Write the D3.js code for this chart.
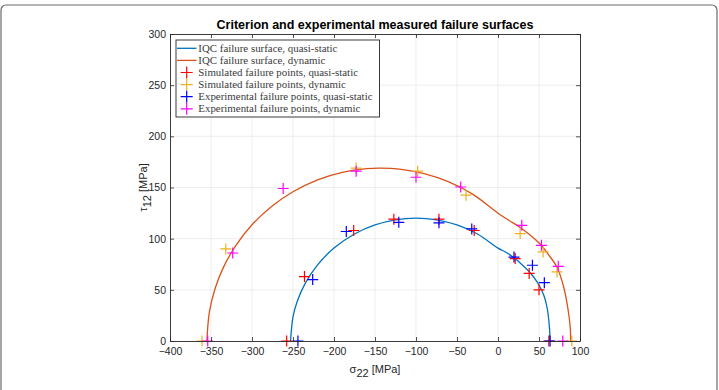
<!DOCTYPE html>
<html>
<head>
<meta charset="utf-8">
<script src="https://cdn.jsdelivr.net/npm/d3@7"></script>
<style>
  body { margin: 0; background: #fff; }
  svg { display: block; }
</style>
</head>
<body>
<svg id="chart" width="719" height="390"></svg>
<script>
// axis ticks
const xTicks = [-400, -350, -300, -250, -200, -150, -100, -50, 0, 50, 100];
const yTicks = [0, 50, 100, 150, 200, 250, 300];

// IQC failure surfaces [sigma22, tau12]
const iqcQuasiStatic = [
  [-253, 0], [-250, 23.6], [-245, 38.3], [-235, 56.5], [-220, 74.4], [-200, 90.8],
  [-175, 104.6], [-150, 113.4], [-125, 118.4], [-100, 120], [-75, 118.4], [-50, 113.4],
  [-25, 104.6], [0, 90.8], [10, 86.5], [20, 81], [30, 74], [40, 66], [47, 58.5],
  [53, 50], [57, 42], [60, 32], [62, 20], [63, 10], [63.4, 0]
];
const iqcDynamic = [
  [-355, 0], [-352, 28.3], [-345, 51.3], [-335, 71.7], [-320, 93], [-300, 113.6],
  [-275, 132.2], [-250, 145.9], [-220, 157.5], [-190, 164.8], [-160, 168.5], [-143, 169],
  [-120, 168], [-90, 163.6], [-60, 155.5], [-30, 143], [0, 124.8], [12, 118.5],
  [27, 111], [40, 103], [51, 95], [62, 84], [72, 72], [80, 53], [85, 33], [88, 14], [88.6, 0]
];

// failure points [sigma22, tau12]
const simQuasiStatic = [
  [-257.7, 0], [-236, 63], [-176, 108], [-127, 119], [-72, 119], [-29, 108],
  [21, 80.5], [38, 66], [50, 50], [62, 0]
];
const simDynamic = [
  [-361, 0], [-332, 90], [-173, 169], [-98, 166], [-39, 142.5], [27, 105],
  [55, 87], [72, 67.5], [90, 0]
];
const expQuasiStatic = [
  [-244, 0], [-226, 60], [-185, 107], [-121, 116], [-72, 115.5], [-32, 109.5],
  [19.5, 82], [42, 74], [56.5, 57], [63.5, 0]
];
const expDynamic = [
  [-354, 0], [-323.5, 86], [-262, 149], [-173, 166], [-100, 160], [-45.5, 150.5],
  [29, 113], [53, 93.5], [73.5, 73], [79, 0]
];

const legendLabels = [
  'IQC failure surface, quasi-static',
  'IQC failure surface, dynamic',
  'Simulated failure points, quasi-static',
  'Simulated failure points, dynamic',
  'Experimental failure points, quasi-static',
  'Experimental failure points, dynamic'
];

const ink = '#262626';
const lines = [
  { data: iqcQuasiStatic, color: '#0072BD' },
  { data: iqcDynamic, color: '#D95319' }
];
const markers = [
  { data: simQuasiStatic, color: '#FF0000' },
  { data: simDynamic, color: '#EDB120' },
  { data: expQuasiStatic, color: '#0000FF' },
  { data: expDynamic, color: '#FF00FF' }
];

const plotLeft = 170, plotRight = 580, plotTop = 34, plotBottom = 341;

const x = d3.scaleLinear().domain([-400, 100]).range([plotLeft, plotRight]);
const y = d3.scaleLinear().domain([0, 300]).range([plotBottom, plotTop]);

const svg = d3.select('#chart');

// figure frame
svg.append('rect')
  .attr('x', 1).attr('y', 5)
  .attr('width', 716).attr('height', 400)
  .attr('rx', 5)
  .attr('fill', 'none')
  .attr('stroke', '#6a6a6a')
  .attr('stroke-width', 1.2);

// grid
const grid = svg.append('g').attr('stroke', '#e6e6e6').attr('stroke-width', 0.7);
grid.selectAll('.gx')
  .data(xTicks.slice(1, -1))
  .join('line')
  .attr('class', 'gx')
  .attr('x1', d => x(d)).attr('x2', d => x(d))
  .attr('y1', plotTop).attr('y2', plotBottom);
grid.selectAll('.gy')
  .data(yTicks.slice(1, -1))
  .join('line')
  .attr('class', 'gy')
  .attr('x1', plotLeft).attr('x2', plotRight)
  .attr('y1', d => y(d)).attr('y2', d => y(d));

// curves
const lineGen = d3.line()
  .x(d => x(d[0]))
  .y(d => y(d[1]))
  .curve(d3.curveCatmullRom.alpha(0.5));

svg.append('g')
  .selectAll('path')
  .data(lines)
  .join('path')
  .attr('d', d => lineGen(d.data))
  .attr('fill', 'none')
  .attr('stroke', d => d.color)
  .attr('stroke-width', 1.3);

// crosses
const cross = 'M-5.5,0H5.5M0,-5.5V5.5';
svg.append('g')
  .selectAll('g')
  .data(markers)
  .join('g')
  .attr('stroke', d => d.color)
  .attr('stroke-width', 1.2)
  .selectAll('path')
  .data(d => d.data)
  .join('path')
  .attr('d', cross)
  .attr('transform', d => `translate(${x(d[0])},${y(d[1])})`);

// axes
const styleAxis = g => {
  g.select('.domain').attr('stroke', ink).attr('stroke-width', 0.9);
  g.selectAll('.tick line').attr('stroke', ink).attr('stroke-width', 0.8);
  g.selectAll('.tick text')
    .attr('fill', ink)
    .style('font-family', '"Liberation Sans", Arial, sans-serif')
    .style('font-size', '10.5px');
};

svg.append('g')
  .attr('transform', `translate(0,${plotBottom})`)
  .call(d3.axisBottom(x).tickValues(xTicks).tickSizeInner(-4).tickSizeOuter(0).tickPadding(7))
  .call(styleAxis);
svg.append('g')
  .attr('transform', `translate(0,${plotTop})`)
  .call(d3.axisTop(x).tickValues(xTicks).tickSizeInner(-4).tickSizeOuter(0).tickFormat(''))
  .call(styleAxis);
svg.append('g')
  .attr('transform', `translate(${plotLeft},0)`)
  .call(d3.axisLeft(y).tickValues(yTicks).tickSizeInner(-4).tickSizeOuter(0).tickPadding(4))
  .call(styleAxis);
svg.append('g')
  .attr('transform', `translate(${plotRight},0)`)
  .call(d3.axisRight(y).tickValues(yTicks).tickSizeInner(-4).tickSizeOuter(0).tickFormat(''))
  .call(styleAxis);

// title
svg.append('text')
  .attr('x', (plotLeft + plotRight) / 2)
  .attr('y', 29)
  .attr('text-anchor', 'middle')
  .attr('fill', '#000')
  .style('font-family', '"Liberation Sans", Arial, sans-serif')
  .style('font-size', '12.5px')
  .style('font-weight', 'bold')
  .text('Criterion and experimental measured failure surfaces');

// axis labels
const xLabel = svg.append('text')
  .attr('x', (plotLeft + plotRight) / 2)
  .attr('y', 373)
  .attr('text-anchor', 'middle')
  .attr('fill', ink)
  .style('font-family', '"Liberation Sans", Arial, sans-serif')
  .style('font-size', '11px');
xLabel.append('tspan').text('σ');
xLabel.append('tspan').attr('dy', 4).text('22');
xLabel.append('tspan').attr('dy', -4).text(' [MPa]');

const yLabel = svg.append('text')
  .attr('transform', `translate(147,${(plotTop + plotBottom) / 2}) rotate(-90)`)
  .attr('text-anchor', 'middle')
  .attr('fill', ink)
  .style('font-family', '"Liberation Sans", Arial, sans-serif')
  .style('font-size', '11px');
yLabel.append('tspan').text('τ');
yLabel.append('tspan').attr('dy', 4).text('12');
yLabel.append('tspan').attr('dy', -4).text(' [MPa]');

// legend
const legend = svg.append('g').attr('transform', 'translate(176,40)');
legend.append('rect')
  .attr('width', 203.5)
  .attr('height', 77)
  .attr('fill', '#fff')
  .attr('stroke', ink)
  .attr('stroke-width', 0.9);

const legendItems = legend.selectAll('.item')
  .data(legendLabels)
  .join('g')
  .attr('class', 'item')
  .attr('transform', (d, i) => `translate(0,${8.3 + i * 12.1})`);

legendItems.filter((d, i) => i < 2)
  .append('line')
  .attr('x1', 1).attr('x2', 20.5)
  .attr('stroke', (d, i) => lines[i].color)
  .attr('stroke-width', 1.3);

legendItems.filter((d, i) => i >= 2)
  .append('path')
  .attr('d', 'M-6,0H6M0,-6V6')
  .attr('transform', 'translate(10.7,0)')
  .attr('stroke', (d, i) => markers[i].color)
  .attr('stroke-width', 1.2);

legendItems.append('text')
  .attr('x', 22.3)
  .attr('dy', '0.32em')
  .attr('fill', '#3a3a3a')
  .style('font-family', '"Liberation Serif", "DejaVu Serif", serif')
  .style('font-size', '10.9px')
  .text(d => d);
</script>
</body>
</html>
